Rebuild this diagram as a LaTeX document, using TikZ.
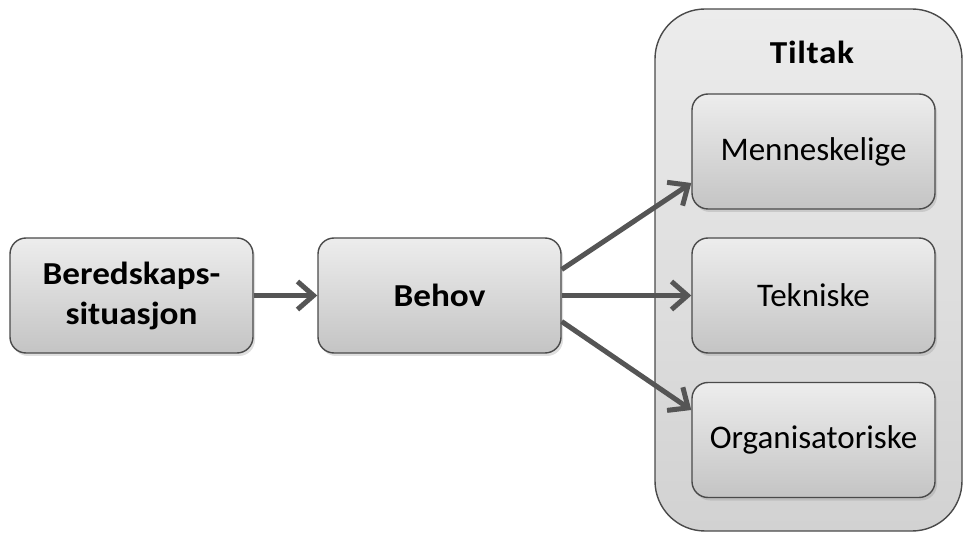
\documentclass[tikz,border=0pt]{standalone}
\usepackage{fontspec}
\setmainfont{Carlito}
\usetikzlibrary{arrows.meta,shadows}
\definecolor{boxline}{HTML}{4A4A4A}
\definecolor{boxtop}{HTML}{EDEDED}
\definecolor{boxbot}{HTML}{C4C4C4}
\definecolor{contop}{HTML}{ECECEC}
\definecolor{conbot}{HTML}{D2D2D2}
\definecolor{arrowgray}{HTML}{555555}
\tikzset{
  stepbox/.style={draw=boxline, line width=1.4pt, rounded corners=16pt,
    top color=boxtop, bottom color=boxbot, minimum width=243pt,
    minimum height=115pt, inner sep=0pt, align=center, font=\fontsize{33}{40}\selectfont,
    drop shadow={shadow xshift=2pt, shadow yshift=-3pt, opacity=0.25}},
  boldtext/.style={font=\fontsize{32}{40}\selectfont\bfseries\addfontfeatures{FakeStretch=1.1}},
  flow/.style={draw=arrowgray, line width=5pt,
    -{Straight Barb[length=16pt, width=28pt, line width=5pt]}},
}
\begin{document}
\begin{tikzpicture}[x=1pt, y=-1pt]
\useasboundingbox (0,0) rectangle (964,534);
% container
\node[draw=boxline, line width=1.4pt, rounded corners=50pt,
  top color=contop, bottom color=conbot,
  minimum width=307pt, minimum height=522pt, inner sep=0pt] (tiltak) at (808.5,270) {};
\node[boldtext] (tiltaklabel) at (812,52) {\addfontfeatures{LetterSpace=2}Tiltak};
% boxes
\node[stepbox, boldtext] (bered) at (131.5,295.5) {Beredskaps-\\situasjon};
\node[stepbox, boldtext] (behov) at (439.5,295.5) {Behov};
\node[stepbox] (menn) at (813.5,151.5) {Menneskelige};
\node[stepbox] (tekn) at (813.5,295.5) {Tekniske};
\node[stepbox] (org) at (813.5,440) {Organisatoriske};
% connectors
\draw[flow] ([yshift=26pt]behov.east) -- (menn.west |- 0,183);
\draw[flow] (bered.east) -- (behov.west);
\draw[flow] (behov.east) -- (tekn.west);
\draw[flow] ([yshift=-26pt]behov.east) -- (org.west |- 0,410);
\end{tikzpicture}
\end{document}
